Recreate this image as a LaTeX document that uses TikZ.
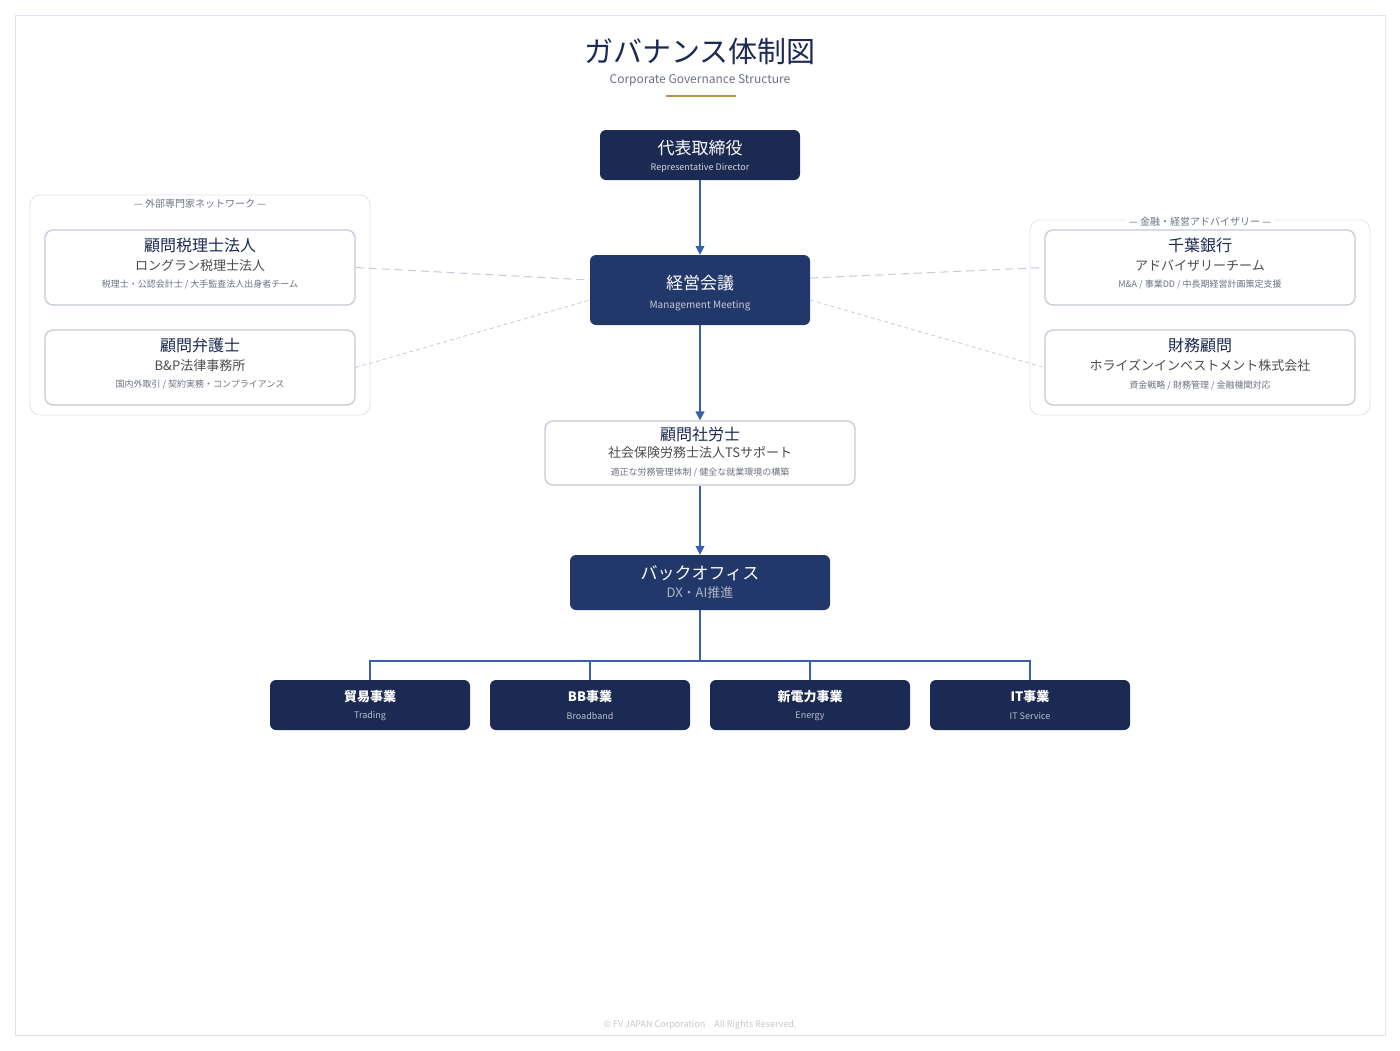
\documentclass[tikz,border=0pt]{standalone}
\usepackage{fontspec}
\setmainfont{Noto Sans CJK JP}
\usetikzlibrary{arrows.meta}
\definecolor{navy}{HTML}{1B2A52}
\definecolor{navymid}{HTML}{22386A}
\definecolor{linkblue}{HTML}{3A5FB0}
\definecolor{edge}{HTML}{C3CAD8}
\definecolor{groupedge}{HTML}{DDE3EC}
\definecolor{greytxt}{HTML}{6B7280}
\definecolor{gold}{HTML}{B0944E}
\tikzset{
  dark/.style = {rectangle, rounded corners=6pt, fill=navy, text=white, align=center, inner sep=0pt},
  mid/.style = {dark, fill=navymid},
  light/.style = {rectangle, rounded corners=8pt, draw=edge, line width=1.3pt, fill=white, inner sep=0pt},
  group/.style = {draw=groupedge, rounded corners=10pt, line width=.8pt},
  link/.style = {draw=linkblue, line width=1.3pt},
  arr/.style = {link, -{Triangle[length=9pt,width=9pt]}},
  advlink/.style = {draw=edge, line width=1pt, dash pattern=on 8pt off 5pt},
  advfine/.style = {draw=edge, line width=.8pt, dash pattern=on 4pt off 3pt},
  txt/.style = {inner sep=0pt, align=center}
}
\begin{document}
\begin{tikzpicture}[x=1pt, y=-1pt]
  \useasboundingbox (0,0) rectangle (1400,1050);
  \draw[groupedge, line width=.8pt] (15,15) rectangle (1385,1035);

  % title
  \node[txt, text=navy, font=\fontsize{29}{30}\selectfont] (title) at (700,52) {ガバナンス体制図};
  \node[txt, text=greytxt, font=\fontsize{12}{13}\selectfont] (subtitle) at (700,80) {Corporate Governance Structure};
  \draw[gold, line width=1.5pt] (666,96) -- (736,96);

  % groups
  \draw[group] (30,195) rectangle (370,415);
  \draw[group] (1030,220) rectangle (1370,415);
  \node[txt, fill=white, inner xsep=3pt, text=greytxt, font=\fontsize{10}{11}\selectfont] (lgroup) at (200,204) {— 外部専門家ネットワーク —};
  \node[txt, fill=white, inner xsep=3pt, text=greytxt, font=\fontsize{10}{11}\selectfont] (rgroup) at (1200,222) {— 金融・経営アドバイザリー —};

  % main chain
  \node[dark, minimum width=200pt, minimum height=50pt] (ceo) at (700,155) {};
  \node[txt, text=white, font=\fontsize{17}{18}\selectfont] at (700,148) {代表取締役};
  \node[txt, text=white!80!navy, font=\fontsize{9}{10}\selectfont] at (700,168) {Representative Director};

  \node[mid, minimum width=220pt, minimum height=70pt] (meet) at (700,290) {};
  \node[txt, text=white, font=\fontsize{17}{18}\selectfont] at (700,283) {経営会議};
  \node[txt, text=white!75!navy, font=\fontsize{10}{11}\selectfont] at (700,306) {Management Meeting};

  \node[light, minimum width=310pt, minimum height=64pt] (sr) at (700,453) {};
  \node[txt, text=navy, font=\fontsize{16}{17}\selectfont] at (700,434) {顧問社労士};
  \node[txt, text=black!70, font=\fontsize{13}{14}\selectfont] at (700,453) {社会保険労務士法人TSサポート};
  \node[txt, text=greytxt, font=\fontsize{9}{10}\selectfont] at (700,472) {適正な労務管理体制 / 健全な就業環境の構築};

  \node[mid, minimum width=260pt, minimum height=55pt] (back) at (700,582.5) {};
  \node[txt, text=white, font=\fontsize{17}{18}\selectfont] at (700,573) {バックオフィス};
  \node[txt, text=white!65!navy, font=\fontsize{13}{14}\selectfont] at (700,593) {DX・AI推進};

  \draw[arr] (ceo) -- (meet);
  \draw[arr] (meet) -- (sr);
  \draw[arr] (sr) -- (back);

  % advisers
  \node[light, minimum width=310pt, minimum height=75pt] (tax) at (200,267.5) {};
  \node[txt, text=navy, font=\fontsize{16}{17}\selectfont] at (200,245) {顧問税理士法人};
  \node[txt, text=black!70, font=\fontsize{13}{14}\selectfont] at (200,266) {ロングラン税理士法人};
  \node[txt, text=greytxt, font=\fontsize{9}{10}\selectfont] at (200,285) {税理士・公認会計士 / 大手監査法人出身者チーム};

  \node[light, minimum width=310pt, minimum height=75pt] (law) at (200,367.5) {};
  \node[txt, text=navy, font=\fontsize{16}{17}\selectfont] at (200,345) {顧問弁護士};
  \node[txt, text=black!70, font=\fontsize{13}{14}\selectfont] at (200,366) {B\&P法律事務所};
  \node[txt, text=greytxt, font=\fontsize{9}{10}\selectfont] at (200,385) {国内外取引 / 契約実務・コンプライアンス};

  \node[light, minimum width=310pt, minimum height=75pt] (bank) at (1200,267.5) {};
  \node[txt, text=navy, font=\fontsize{16}{17}\selectfont] at (1200,245) {千葉銀行};
  \node[txt, text=black!70, font=\fontsize{13}{14}\selectfont] at (1200,266) {アドバイザリーチーム};
  \node[txt, text=greytxt, font=\fontsize{9}{10}\selectfont] at (1200,285) {M\&A / 事業DD / 中長期経営計画策定支援};

  \node[light, minimum width=310pt, minimum height=75pt] (fin) at (1200,367.5) {};
  \node[txt, text=navy, font=\fontsize{16}{17}\selectfont] at (1200,345) {財務顧問};
  \node[txt, text=black!70, font=\fontsize{13}{14}\selectfont] at (1200,366) {ホライズンインベストメント株式会社};
  \node[txt, text=greytxt, font=\fontsize{9}{10}\selectfont] at (1200,385) {資金戦略 / 財務管理 / 金融機関対応};

  \draw[advlink] (tax.east) -- ([yshift=10pt]meet.west);
  \draw[advfine] (law.east) -- ([yshift=-10pt]meet.west);
  \draw[advlink] ([yshift=12pt]meet.east) -- (bank.west);
  \draw[advfine] ([yshift=-10pt]meet.east) -- (fin.west);

  % businesses
  \coordinate (fork) at (700,661);
  \foreach \n/\x/\t/\s in {trade/370/貿易事業/Trading, bb/590/BB事業/Broadband,
                           power/810/新電力事業/Energy, it/1030/IT事業/IT Service} {
    \node[dark, minimum width=200pt, minimum height=50pt] (\n) at (\x,705) {};
    \node[txt, text=white, font=\fontsize{13}{14}\selectfont\bfseries] at (\x,697) {\t};
    \node[txt, text=white!70!navy, font=\fontsize{9}{10}\selectfont] at (\x,716) {\s};
    \draw[link] (fork) -| (\n.north);
  }
  \draw[link] (back) -- (fork);

  % footer
  \node[txt, text=black!22, font=\fontsize{9}{10}\selectfont] (foot) at (700,1025) {© FV JAPAN Corporation\quad All Rights Reserved.};
\end{tikzpicture}
\end{document}
